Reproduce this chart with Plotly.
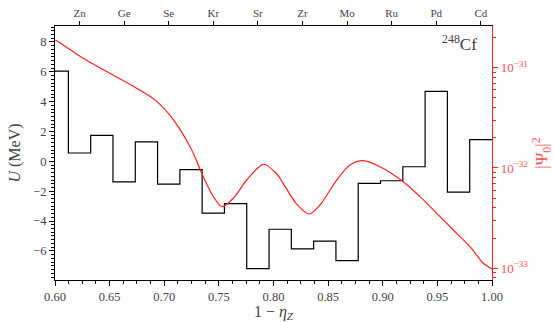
import plotly.graph_objects as go

# Step histogram: left-edge proton number Z (x = Z/49) and potential U (MeV)
Z_edges = [29, 30, 31, 32, 33, 34, 35, 36, 37, 38, 39, 40, 41, 42, 43, 44, 45, 46, 47, 48]
U_vals = [6.04, 0.56, 1.74, -1.37, 1.30, -1.53, -0.56, -3.47, -2.83, -7.19,
          -4.55, -5.87, -5.35, -6.65, -1.48, -1.30, -0.36, 4.69, -2.06, 1.45]

# |Psi_0|^2 curve (x, log10 value)
psi_x = [0.6003, 0.6107, 0.6229, 0.6336, 0.6534, 0.6717, 0.6870, 0.6961,
         0.7053, 0.7144, 0.7236, 0.7266, 0.7357, 0.7449, 0.7529, 0.7632, 0.7755,
         0.7907, 0.8029, 0.8090, 0.8212, 0.8328, 0.8426, 0.8578, 0.8700, 0.8822,
         0.8975, 0.9188, 0.9341, 0.9494, 0.9646, 0.9799, 0.9920, 1.0000]
psi_log = [-30.724, -30.795, -30.885, -30.955, -31.075, -31.185, -31.285, -31.365,
           -31.475, -31.615, -31.788, -31.853, -32.087, -32.286, -32.386, -32.302, -32.120,
           -31.963, -32.057, -32.156, -32.360, -32.459, -32.369, -32.120, -31.970, -31.927,
           -31.987, -32.137, -32.286, -32.452, -32.618, -32.785, -32.950, -33.007]

elements = ["Zn", "Ge", "Se", "Kr", "Sr", "Zr", "Mo", "Ru", "Pd", "Cd"]
element_Z = [30, 32, 34, 36, 38, 40, 42, 44, 46, 48]

A_Z = 49.0
step_x = [z / A_Z for z in Z_edges] + [1.0]
step_y = U_vals + [U_vals[-1]]
top_x = [(z + 0.5) / A_Z for z in element_Z]
psi_y = [10 ** v for v in psi_log]

FONT = "Liberation Serif"
TXT = "#444444"
RED = "#ff2020"
RED_TXT = "#ff5050"

fig = go.Figure()
fig.add_trace(go.Scatter(x=step_x, y=step_y, mode="lines", line=dict(color="black", width=1.2, shape="hv"),
                         xaxis="x", yaxis="y", hoverinfo="skip", showlegend=False))
fig.add_trace(go.Scatter(x=psi_x, y=psi_y, mode="lines",
                         line=dict(color=RED, width=1.2, shape="spline", smoothing=0.8),
                         xaxis="x", yaxis="y2", showlegend=False))
# invisible helpers for overlay axes
fig.add_trace(go.Scatter(x=[0.7], y=[0], mode="markers", marker=dict(opacity=0), xaxis="x2", yaxis="y",
                         hoverinfo="skip", showlegend=False))
fig.add_trace(go.Scatter(x=[0.7], y=[1e-32], mode="markers", marker=dict(opacity=0), xaxis="x", yaxis="y3",
                         hoverinfo="skip", showlegend=False))

minor_vals = []
for d in [-34, -33, -32, -31]:
    for m in range(2, 10):
        minor_vals.append(m * 10 ** d)

yr2 = [-33.117, -30.584]

fig.update_layout(
    width=554, height=322,
    margin=dict(l=55, r=62, t=26, b=42),
    plot_bgcolor="white", paper_bgcolor="white",
    font=dict(family=FONT, color=TXT, size=12),
    xaxis=dict(range=[0.6, 1.0], showline=True, linecolor="black", linewidth=1.2, mirror=False,
               ticks="outside", ticklen=5, tickcolor="black", dtick=0.05, tickformat=".2f",
               showgrid=False, zeroline=False, tickfont=dict(size=12.5, color=TXT), automargin=False,
               minor=dict(ticks="outside", ticklen=3, dtick=0.0125, tickcolor="black"),
               title=dict(text="1 − <i>η</i><sub><i>Z</i></sub>", font=dict(size=16, color=TXT), standoff=6)),
    xaxis2=dict(range=[0.6, 1.0], overlaying="x", side="top", anchor="y", showline=True, linecolor="black",
                linewidth=1.2, ticks="outside", ticklen=4, tickcolor="black", tickvals=top_x, automargin=False,
                ticktext=elements, showgrid=False, zeroline=False, tickfont=dict(size=11, color=TXT)),
    yaxis=dict(range=[-7.95, 9.07], showline=True, linecolor="black", linewidth=1.2, ticks="outside",
               ticklen=5, tickcolor="black", dtick=2, showgrid=False, zeroline=False, automargin=False,
               tickfont=dict(size=12.5, color=TXT),
               minor=dict(ticks="outside", ticklen=3, dtick=0.25, tickcolor="black"),
               title=dict(text="<i>U</i> (MeV)", font=dict(size=16, color=TXT), standoff=8)),
    yaxis2=dict(type="log", range=yr2, overlaying="y", side="right", anchor="x", showline=True,
                linecolor=RED, linewidth=1.2, ticks="outside", ticklen=5, tickcolor=RED, automargin=False,
                tickvals=[1e-33, 1e-32, 1e-31],
                ticktext=["10<sup>−33</sup>", "10<sup>−32</sup>", "10<sup>−31</sup>"],
                showgrid=False, zeroline=False, tickfont=dict(size=13, color=RED_TXT),
                title=dict(text="|Ψ<sub>0</sub>|<sup>2</sup>", font=dict(size=17, color=RED_TXT), standoff=8)),
    yaxis3=dict(type="log", range=yr2, overlaying="y", side="right", anchor="x", showline=False,
                ticks="outside", ticklen=3, tickcolor=RED, tickvals=minor_vals, showticklabels=False,
                showgrid=False, zeroline=False, automargin=False),
    annotations=[dict(x=0.97, y=0.985, xref="paper", yref="paper", xanchor="right", yanchor="top",
                      text="<sup>248</sup>Cf", showarrow=False, font=dict(size=17, color=TXT))],
)

fig.write_html("out.html")
